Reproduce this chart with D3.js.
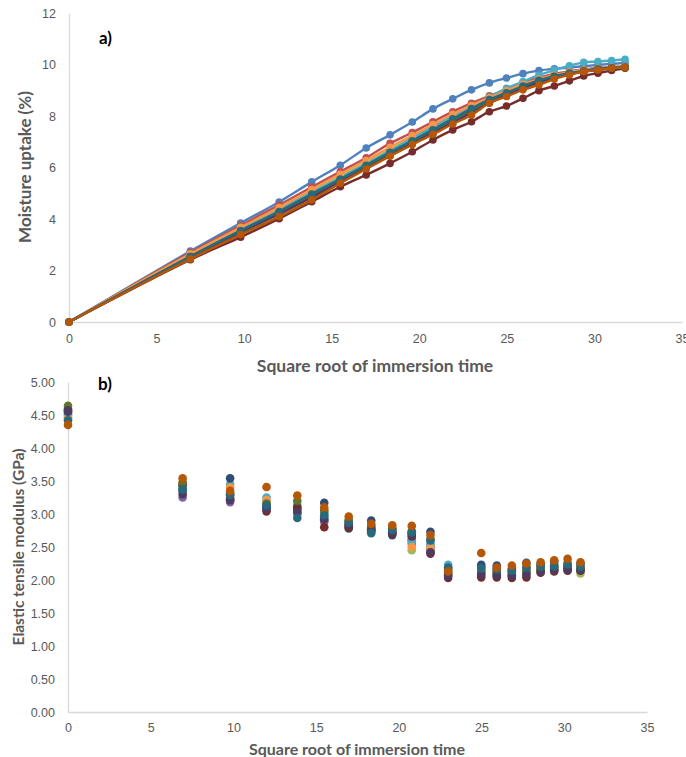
<!DOCTYPE html>
<html>
<head>
<meta charset="utf-8">
<script src="https://cdn.jsdelivr.net/npm/d3@7"></script>
<style>
  html, body { margin: 0; padding: 0; background: #fff; }
  svg { display: block; font-family: Lato, "Open Sans", sans-serif; }
</style>
</head>
<body>
<svg id="chart" width="686" height="757"></svg>
<script>
// ---------- DATA ----------
const seriesColors = ["#4F81BD","#C0504D","#9BBB59","#8064A2","#4BACC6","#F79646",
                      "#2C4D75","#772C2A","#5F7530","#4D3B62","#276A7C","#B65708"];

// a) moisture uptake
const xUptake = [0, 6.93, 9.80, 12.00, 13.86, 15.49, 16.97, 18.33, 19.60, 20.78, 21.91,
                 22.98, 24.00, 24.98, 25.92, 26.83, 27.71, 28.57, 29.39, 30.20, 30.98, 31.75];
const uptake1  = [0, 2.76, 3.85, 4.67, 5.45, 6.10, 6.77, 7.28, 7.78, 8.29, 8.68, 9.03, 9.30, 9.49, 9.66, 9.78, 9.85, 9.90, 9.95, 10.00, 10.04, 10.08];
const uptake2  = [0, 2.70, 3.75, 4.55, 5.25, 5.85, 6.39, 6.95, 7.37, 7.79, 8.18, 8.51, 8.80, 9.05, 9.30, 9.50, 9.65, 9.75, 9.82, 9.88, 9.92, 9.95];
const uptake3  = [0, 2.60, 3.60, 4.38, 5.05, 5.65, 6.18, 6.70, 7.15, 7.58, 7.98, 8.35, 8.68, 8.95, 9.20, 9.42, 9.58, 9.70, 9.79, 9.85, 9.90, 9.93];
const uptake4  = [0, 2.58, 3.58, 4.33, 5.00, 5.60, 6.12, 6.62, 7.08, 7.50, 7.90, 8.28, 8.62, 8.90, 9.15, 9.38, 9.55, 9.68, 9.77, 9.84, 9.89, 9.92];
const uptake5  = [0, 2.60, 3.60, 4.35, 5.05, 5.60, 6.15, 6.65, 7.15, 7.60, 8.00, 8.40, 8.75, 9.09, 9.35, 9.61, 9.80, 9.97, 10.10, 10.13, 10.17, 10.22];
const uptake6  = [0, 2.65, 3.68, 4.45, 5.15, 5.75, 6.28, 6.80, 7.25, 7.68, 8.08, 8.42, 8.72, 9.00, 9.25, 9.45, 9.60, 9.72, 9.80, 9.86, 9.90, 9.94];
const uptake7  = [0, 2.55, 3.55, 4.28, 4.95, 5.55, 6.08, 6.58, 7.02, 7.45, 7.85, 8.22, 8.58, 8.86, 9.12, 9.36, 9.53, 9.66, 9.76, 9.83, 9.88, 9.91];
const uptake8  = [0, 2.42, 3.30, 4.02, 4.68, 5.26, 5.72, 6.17, 6.62, 7.08, 7.47, 7.79, 8.18, 8.40, 8.70, 9.00, 9.18, 9.38, 9.57, 9.68, 9.78, 9.87];
const uptake9  = [0, 2.53, 3.52, 4.25, 4.90, 5.50, 6.02, 6.52, 6.98, 7.40, 7.80, 8.18, 8.55, 8.84, 9.10, 9.34, 9.52, 9.65, 9.75, 9.82, 9.87, 9.90];
const uptake10 = [0, 2.50, 3.48, 4.20, 4.85, 5.45, 5.98, 6.48, 6.94, 7.36, 7.76, 8.14, 8.52, 8.82, 9.08, 9.32, 9.50, 9.64, 9.74, 9.81, 9.86, 9.89];
const uptake11 = [0, 2.55, 3.55, 4.30, 4.98, 5.55, 6.10, 6.60, 7.05, 7.48, 7.90, 8.30, 8.65, 8.92, 9.18, 9.40, 9.56, 9.68, 9.77, 9.84, 9.89, 9.92];
const uptake12 = [0, 2.45, 3.40, 4.10, 4.75, 5.40, 5.95, 6.45, 6.90, 7.30, 7.70, 8.05, 8.51, 8.77, 9.03, 9.22, 9.45, 9.61, 9.74, 9.80, 9.87, 9.90];
const uptakeSeries = [uptake1, uptake2, uptake3, uptake4, uptake5, uptake6, uptake7, uptake8, uptake9, uptake10, uptake11, uptake12];

// b) elastic tensile modulus
const xModulus = [0, 6.93, 9.80, 12.00, 13.86, 15.49, 16.97, 18.33, 19.60, 20.78,
                  21.91, 22.98, 24.98, 25.92, 26.83, 27.71, 28.57, 29.39, 30.20, 30.98];
const modulus1  = [4.50, 3.38, 3.28, 3.15, 3.05, 2.95, 2.85, 2.78, 2.74, 2.62, 2.55, 2.15, 2.20, 2.15, 2.12, 2.18, 2.20, 2.22, 2.23, 2.20];
const modulus2  = [4.55, 3.42, 3.25, 3.12, 3.00, 2.90, 2.83, 2.76, 2.72, 2.60, 2.50, 2.10, 2.15, 2.12, 2.10, 2.15, 2.18, 2.20, 2.20, 2.18];
const modulus3  = [4.60, 3.45, 3.30, 3.18, 3.15, 3.00, 2.88, 2.80, 2.76, 2.45, 2.44, 2.12, 2.12, 2.10, 2.08, 2.13, 2.16, 2.18, 2.18, 2.10];
const modulus4  = [4.52, 3.25, 3.18, 3.10, 3.02, 2.88, 2.82, 2.75, 2.71, 2.55, 2.45, 2.08, 2.10, 2.08, 2.07, 2.10, 2.14, 2.16, 2.17, 2.15];
const modulus5  = [4.47, 3.40, 3.45, 3.25, 3.00, 3.02, 2.90, 2.80, 2.77, 2.58, 2.52, 2.23, 2.20, 2.18, 2.15, 2.20, 2.22, 2.24, 2.26, 2.22];
const modulus6  = [4.45, 3.47, 3.40, 3.21, 3.10, 3.05, 2.90, 2.82, 2.79, 2.50, 2.48, 2.16, 2.17, 2.14, 2.13, 2.20, 2.21, 2.23, 2.24, 2.20];
const modulus7  = [4.55, 3.35, 3.54, 3.10, 3.11, 3.17, 2.78, 2.90, 2.68, 2.71, 2.73, 2.18, 2.23, 2.22, 2.17, 2.26, 2.24, 2.28, 2.20, 2.25];
const modulus8  = [4.58, 3.44, 3.22, 3.04, 3.08, 2.80, 2.80, 2.74, 2.70, 2.66, 2.40, 2.03, 2.04, 2.04, 2.03, 2.04, 2.11, 2.13, 2.14, 2.14];
const modulus9  = [4.64, 3.48, 3.32, 3.16, 3.20, 3.05, 2.90, 2.82, 2.78, 2.74, 2.62, 2.09, 2.13, 2.11, 2.13, 2.13, 2.16, 2.18, 2.19, 2.16];
const modulus10 = [4.57, 3.30, 3.21, 3.08, 3.03, 2.92, 2.84, 2.77, 2.72, 2.68, 2.42, 2.06, 2.08, 2.07, 2.06, 2.08, 2.13, 2.15, 2.16, 2.15];
const modulus11 = [4.42, 3.37, 3.29, 3.13, 2.94, 2.98, 2.87, 2.71, 2.76, 2.72, 2.60, 2.19, 2.18, 2.16, 2.14, 2.19, 2.20, 2.21, 2.24, 2.20];
const modulus12 = [4.35, 3.54, 3.35, 3.41, 3.28, 3.10, 2.96, 2.85, 2.83, 2.82, 2.68, 2.13, 2.41, 2.19, 2.22, 2.25, 2.27, 2.30, 2.32, 2.27];
const modulusSeries = [modulus1, modulus2, modulus3, modulus4, modulus5, modulus6, modulus7, modulus8, modulus9, modulus10, modulus11, modulus12];

const xTicks = [0, 5, 10, 15, 20, 25, 30, 35];
const uptakeTicks = [0, 2, 4, 6, 8, 10, 12];
const modulusTicks = [0, 0.5, 1, 1.5, 2, 2.5, 3, 3.5, 4, 4.5, 5];

// ---------- DRAW ----------
const svg = d3.select("#chart");
const axisColor = "#d9d9d9";
const labelColor = "#595959";

function styleAxis(g) {
  g.select(".domain").attr("stroke", axisColor).attr("stroke-width", 1.3);
  g.selectAll(".tick line").remove();
  g.selectAll(".tick text").attr("fill", labelColor).style("font-size", "12.5px");
}

// ---- Panel a ----
const xA = d3.scaleLinear().domain([0, 35]).range([69, 682]);
const yA = d3.scaleLinear().domain([0, 12]).range([322, 13.5]);

svg.append("g").attr("transform", `translate(0,${yA(0)})`)
  .call(d3.axisBottom(xA).tickValues(xTicks).tickSize(0).tickPadding(12))
  .call(styleAxis);
svg.append("g").attr("transform", `translate(${xA(0)},0)`)
  .call(d3.axisLeft(yA).tickValues(uptakeTicks).tickSize(0).tickPadding(13))
  .call(styleAxis);

const lineA = d3.line().x((d, i) => xA(xUptake[i])).y(d => yA(d)).curve(d3.curveCatmullRom.alpha(0.5));
uptakeSeries.forEach((s, k) => {
  const g = svg.append("g");
  g.append("path").datum(s).attr("d", lineA)
    .attr("fill", "none").attr("stroke", seriesColors[k]).attr("stroke-width", 2.4);
  g.selectAll("circle").data(s).join("circle")
    .attr("cx", (d, i) => xA(xUptake[i])).attr("cy", d => yA(d)).attr("r", 3.8)
    .attr("fill", seriesColors[k]);
});

svg.append("text").attr("x", 99).attr("y", 44).text("a)")
  .attr("font-weight", "bold").attr("font-size", 17).attr("fill", "#000");
svg.append("text").attr("x", 375).attr("y", 372).attr("text-anchor", "middle")
  .text("Square root of immersion time").attr("font-weight", "bold").attr("font-size", 17.5).attr("fill", labelColor);
svg.append("text").attr("transform", "translate(31,167) rotate(-90)").attr("text-anchor", "middle")
  .text("Moisture uptake (%)").attr("font-weight", "bold").attr("font-size", 17).attr("fill", labelColor);

// ---- Panel b ----
const xB = d3.scaleLinear().domain([0, 35]).range([68, 647]);
const yB = d3.scaleLinear().domain([0, 5]).range([712, 382]);

svg.append("g").attr("transform", `translate(0,${yB(0)})`)
  .call(d3.axisBottom(xB).tickValues(xTicks).tickSize(0).tickPadding(11))
  .call(styleAxis);
svg.append("g").attr("transform", `translate(${xB(0)},0)`)
  .call(d3.axisLeft(yB).tickValues(modulusTicks).tickFormat(d3.format(".2f")).tickSize(0).tickPadding(13))
  .call(styleAxis);

modulusSeries.forEach((s, k) => {
  svg.append("g").selectAll("circle").data(s).join("circle")
    .attr("cx", (d, i) => xB(xModulus[i])).attr("cy", d => yB(d)).attr("r", 4.3)
    .attr("fill", seriesColors[k]);
});

svg.append("text").attr("x", 98).attr("y", 390).text("b)")
  .attr("font-weight", "bold").attr("font-size", 17).attr("fill", "#000");
svg.append("text").attr("x", 357).attr("y", 755).attr("text-anchor", "middle")
  .text("Square root of immersion time").attr("font-weight", "bold").attr("font-size", 16).attr("fill", labelColor);
svg.append("text").attr("transform", "translate(24,547) rotate(-90)").attr("text-anchor", "middle")
  .text("Elastic tensile modulus (GPa)").attr("font-weight", "bold").attr("font-size", 15.5).attr("fill", labelColor);
</script>
</body>
</html>
